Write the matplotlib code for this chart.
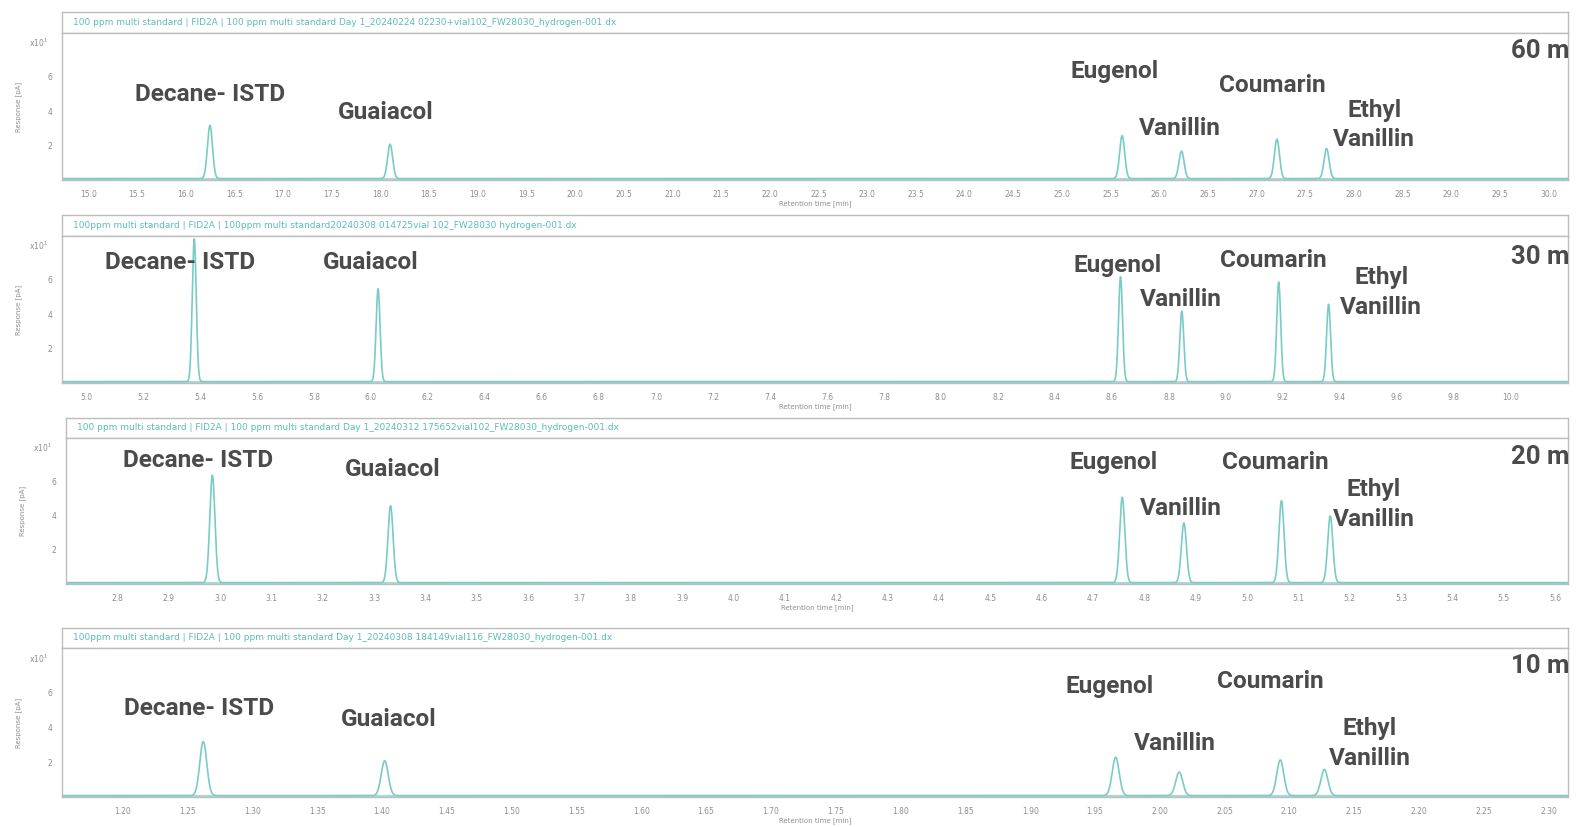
import numpy as np
import matplotlib
matplotlib.use('Agg')
import matplotlib.pyplot as plt

# Column lengths shown on the right of each chromatogram
columns = ['60 m', '30 m', '20 m', '10 m']

# Compounds (same order in every run)
compounds = ['Decane- ISTD', 'Guaiacol', 'Eugenol', 'Vanillin', 'Coumarin', 'Ethyl\nVanillin']

# Retention times [min]
rt_60 = [16.25, 18.10, 25.62, 26.23, 27.21, 27.72]
rt_30 = [5.38, 6.025, 8.63, 8.845, 9.185, 9.36]
rt_20 = [2.985, 3.332, 4.757, 4.877, 5.067, 5.162]
rt_10 = [1.262, 1.402, 1.966, 2.015, 2.093, 2.127]

# Peak heights [x10^1 pA]
h_60 = [3.1, 2.0, 2.5, 1.6, 2.3, 1.75]
h_30 = [8.3, 5.4, 6.1, 4.1, 5.8, 4.5]
h_20 = [6.3, 4.5, 5.0, 3.5, 4.8, 3.9]
h_10 = [3.1, 2.0, 2.2, 1.35, 2.05, 1.5]

# Peak width (sigma, min) of each run
peak_sigma = [0.026, 0.007, 0.005, 0.0027]

# Header strings of the data files
headers = [
    '100 ppm multi standard | FID2A | 100 ppm multi standard Day 1_20240224 02230+vial102_FW28030_hydrogen-001.dx',
    '100ppm multi standard | FID2A | 100ppm multi standard20240308 014725vial 102_FW28030 hydrogen-001.dx',
    '100 ppm multi standard | FID2A | 100 ppm multi standard Day 1_20240312 175652vial102_FW28030_hydrogen-001.dx',
    '100ppm multi standard | FID2A | 100 ppm multi standard Day 1_20240308 184149vial116_FW28030_hydrogen-001.dx',
]

# x ticks of each run
xticks_60 = np.arange(15.0, 30.01, 0.5)
xticks_30 = np.arange(5.0, 10.01, 0.2)
xticks_20 = np.arange(2.8, 5.61, 0.1)
xticks_10 = np.arange(1.20, 2.301, 0.05)
yticks = [2, 4, 6]

rts = [rt_60, rt_30, rt_20, rt_10]
heights = [h_60, h_30, h_20, h_10]
xticks = [xticks_60, xticks_30, xticks_20, xticks_10]
tick_fmt = ['%.1f', '%.1f', '%.1f', '%.2f']
xlims = [(14.73, 30.2), (4.916, 10.2), (2.70, 5.625), (1.153, 2.315)]

# layout in pixels (left, header top, plot top, plot bottom)
W, H = 1576, 827
lefts = [62, 62, 66, 62]
head_tops = [12, 215, 418, 628]
tops = [33, 236, 438, 648]
bottoms = [180, 383, 584, 797]

# label positions in data units, one list per run
label_pos = [
    [(16.25, 4.95), (18.06, 3.95), (25.54, 6.3), (26.21, 3.0), (27.16, 5.5), (28.21, 3.2)],
    [(5.33, 7.0), (6.0, 7.0), (8.62, 6.85), (8.84, 4.85), (9.165, 7.1), (9.545, 5.25)],
    [(2.957, 7.25), (3.336, 6.7), (4.74, 7.1), (4.872, 4.45), (5.055, 7.1), (5.247, 4.65)],
    [(1.259, 5.1), (1.405, 4.45), (1.961, 6.35), (2.012, 3.05), (2.085, 6.6), (2.162, 3.05)],
]
col_y = [0.88, 0.86, 0.87, 0.88]

trace_color = '#79ccc6'
frame_color = '#bdbdbd'
label_color = '#4b4b4b'
tick_color = '#8f8f8f'
big_font = ['Roboto', 'DejaVu Sans']

fig = plt.figure(figsize=(W / 100, H / 100), dpi=100)

for i in range(4):
    left = lefts[i] / W
    width = (1568 - lefts[i]) / W

    # header strip with the file name
    hax = fig.add_axes([left, 1 - tops[i] / H, width, (tops[i] - head_tops[i]) / H])
    hax.set_xticks([])
    hax.set_yticks([])
    for s in hax.spines.values():
        s.set_color(frame_color)
        s.set_linewidth(1.0)
    hax.text(0.007, 0.5, headers[i], color='#5cbdb5', fontsize=6.5, va='center', ha='left',
             transform=hax.transAxes)

    # chromatogram
    ax = fig.add_axes([left, 1 - bottoms[i] / H, width, (bottoms[i] - tops[i]) / H])
    x = np.linspace(xlims[i][0], xlims[i][1], 6000)
    y = np.full_like(x, 0.08)
    for rt, h in zip(rts[i], heights[i]):
        y += h * np.exp(-0.5 * ((x - rt) / peak_sigma[i]) ** 2)
    ax.plot(x, y, color=trace_color, lw=1.2)
    ax.axhline(0.08, color='#a5dad6', lw=2.2, zorder=1)

    ax.set_xlim(xlims[i])
    ax.set_ylim(0, 8.55)
    ax.set_xticks(xticks[i])
    ax.set_xticklabels([tick_fmt[i] % v for v in xticks[i]])
    ax.set_yticks(yticks)
    ax.tick_params(length=0, labelsize=5.5, colors=tick_color, pad=7)
    for s in ax.spines.values():
        s.set_color(frame_color)
        s.set_linewidth(1.0)
    ax.set_xlabel('Retention time [min]', fontsize=5, color=tick_color, labelpad=1)
    ax.set_ylabel('Response [pA]', fontsize=5, color=tick_color, labelpad=18)
    ax.text(-0.009, 0.93, 'x10$^1$', transform=ax.transAxes, fontsize=5.5, color=tick_color,
            ha='right', va='center')

    # compound names
    for name, (lx, ly) in zip(compounds, label_pos[i]):
        ax.text(lx, ly, name, fontsize=17.6, fontweight='bold', color=label_color, family=big_font,
                ha='center', va='center', linespacing=1.38)
    ax.text(1.001, col_y[i], columns[i], transform=ax.transAxes, fontsize=18.5, fontweight='bold',
            color=label_color, family=big_font, ha='right', va='center')

plt.savefig('out.png', dpi=100)
